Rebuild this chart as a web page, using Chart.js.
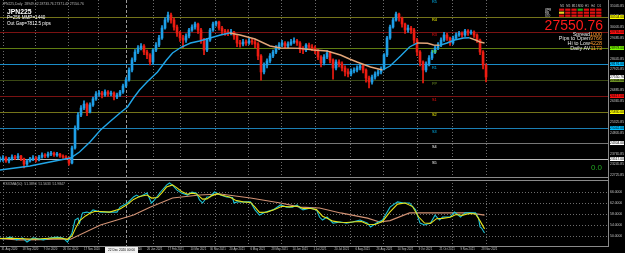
<!DOCTYPE html>
<html>
<head>
<meta charset="utf-8">
<script src="https://cdn.jsdelivr.net/npm/chart.js@4.4.0/dist/chart.umd.min.js"></script>
<style>
  html, body { margin: 0; padding: 0; background: #000; overflow: hidden; }
  #wrap { position: relative; width: 625px; height: 253px; background: #000; }
  #main { position: absolute; left: 0; top: 0; }
  #sub { position: absolute; left: 0; top: 178px; }
</style>
</head>
<body>
<div id="wrap">
  <canvas id="main" width="625" height="178"></canvas>
  <canvas id="sub" width="625" height="75"></canvas>
</div>
<script>
// JPN225 daily, one candle every 2 bars (bar index = i * 2), open = previous close
var closes = [
  23470, 23570, 23420, 23520, 23615, 23570, 23665, 23520, 23270, 23420,
  23520, 23570, 23470, 23615, 23715, 23665, 23760, 23810, 23715, 23760,
  23665, 23615, 23570, 23320, 24060, 25040, 25680, 26025, 26220, 25830,
  26175, 26470, 26715, 26765, 26665, 26815, 26715, 26765, 26570, 26665,
  26815, 27110, 27405, 27895, 28390, 28780, 28980, 29075, 28780, 28635,
  28290, 28880, 29125, 29470, 29960, 30355, 30600, 30355, 30010, 29715,
  29470, 29370, 29570, 29865, 30010, 30160, 29865, 29370, 28880, 29370,
  29865, 30160, 30260, 29960, 29815, 29765, 29715, 29765, 29570, 29225,
  29175, 29275, 29225, 29325, 29275, 29175, 28585, 27800, 28140, 28340,
  28585, 28780, 28980, 29125, 29225, 29075, 29175, 29275, 29325, 29225,
  28930, 28880, 29125, 29025, 28980, 28830, 28535, 28240, 28535, 28730,
  28390, 27995, 28290, 28190, 27995, 27800, 27700, 27845, 27895, 27995,
  28095, 27895, 27500, 27305, 27550, 27700, 27800, 27945, 28635, 29470,
  30010, 30355, 30650, 30455, 30160, 29865, 29960, 29865, 29370, 28780,
  28290, 27895, 28190, 28485, 28780, 28980, 29125, 29370, 29620, 29470,
  29225, 29470, 29620, 29715, 29620, 29815, 29715, 29765, 29620, 29370,
  28780, 28140, 27550
];
var highs = [
  23620, 23680, 23640, 23600, 23720, 23700, 23780, 23700, 23560, 23500,
  23600, 23680, 23640, 23700, 23820, 23790, 23860, 23900, 23860, 23840,
  23800, 23720, 23680, 23620, 24150, 25150, 25800, 26150, 26380, 26280,
  26280, 26560, 26830, 26880, 26850, 26920, 26880, 26860, 26820, 26760,
  26900, 27200, 27520, 28000, 28500, 28900, 29100, 29200, 29150, 28880,
  28700, 28950, 29250, 29600, 30080, 30480, 30750, 30700, 30450, 30100,
  29800, 29600, 29680, 29950, 30120, 30250, 30200, 29950, 29450, 29450,
  29950, 30250, 30307, 30300, 30050, 29900, 29880, 29900, 29800, 29620,
  29350, 29400, 29380, 29450, 29420, 29380, 29250, 28650, 28250, 28450,
  28700, 28880, 29100, 29250, 29350, 29300, 29280, 29400, 29480, 29400,
  29300, 29050, 29200, 29220, 29150, 29080, 28900, 28600, 28650, 28850,
  28800, 28450, 28400, 28400, 28300, 28100, 27950, 27950, 28000, 28100,
  28200, 28150, 27950, 27600, 27650, 27800, 27900, 28050, 28700, 29550,
  30100, 30450, 30750, 30700, 30500, 30200, 30100, 30050, 29950, 29450,
  28850, 28350, 28300, 28600, 28880, 29100, 29250, 29480, 29750, 29700,
  29520, 29560, 29720, 29800, 29780, 29900, 29880, 29860, 29820, 29680,
  29420, 28850, 28200
];
var lows = [
  23380, 23400, 23350, 23330, 23460, 23480, 23510, 23430, 23075, 23200,
  23360, 23440, 23380, 23420, 23560, 23580, 23600, 23680, 23640, 23650,
  23590, 23540, 23480, 23220, 23280, 24000, 24950, 25600, 25950, 25650,
  25780, 26100, 26400, 26600, 26520, 26600, 26600, 26620, 26420, 26480,
  26600, 26750, 27040, 27350, 27800, 28300, 28700, 28880, 28650, 28450,
  28150, 28200, 28800, 29050, 29400, 29900, 30250, 30200, 29850, 29550,
  29300, 29000, 29250, 29480, 29800, 29900, 29700, 29200, 28650, 28800,
  29300, 29800, 30050, 29850, 29650, 29600, 29580, 29620, 29400, 29050,
  29020, 29080, 29100, 29150, 29150, 29000, 28400, 27400, 27700, 28000,
  28250, 28500, 28700, 28900, 29050, 28950, 29000, 29100, 29200, 29100,
  28750, 28700, 28800, 28900, 28850, 28700, 28400, 28050, 28150, 28450,
  28250, 27450, 27900, 28050, 27850, 27600, 27550, 27600, 27750, 27800,
  27900, 27750, 27300, 27010, 27200, 27450, 27600, 27700, 27900, 28550,
  29400, 29950, 30300, 30300, 30000, 29700, 29750, 29700, 29200, 28600,
  28100, 27255, 27800, 28100, 28400, 28700, 28900, 29050, 29300, 29350,
  29100, 29150, 29400, 29550, 29500, 29550, 29600, 29650, 29500, 29250,
  28650, 27950, 27306
];
var barStep = 2;
var lastPrice = 27550.76;

// moving average (coloured by slope)
var maIdx = [0, 10, 20, 30, 40, 47, 53, 60, 67, 73, 80, 85, 89, 93, 98, 105, 111, 115, 121, 127,
  133, 140, 147, 153, 160, 170, 180, 187, 193, 200, 209, 218, 227, 233, 238, 247, 255, 260, 267, 273,
  278, 285, 289, 293, 298, 303, 309, 313, 317, 320, 323];
var maVals = [22976, 23074, 23173, 23320, 23468, 23566, 23862, 24354, 24944, 25338,
  25780, 26076, 26518, 26912, 27306, 27798, 28388, 28732, 29028, 29224,
  29323, 29470, 29618, 29716, 29618, 29421, 29077, 28978, 28970, 28960,
  28880, 28831, 28634, 28437, 28290, 28044, 27896, 28093, 28585, 29028,
  29224, 29210, 29126, 29110, 29224, 29372, 29470, 29480, 29372, 29274, 29224];

// pivot levels
var pivotLevels = [31420, 30504, 29766, 28978, 28191, 27404, 26617, 25830, 25042, 24304, 23517];
var pivotNames = ['R5', 'R4', 'R3', 'R2', 'R1', 'PP', 'S1', 'S2', 'S3', 'S4', 'S5'];
var pivotLineCol = ['#1b7fb4', '#74741a', '#7a1212', '#5f7d12', '#1a8cc8', '#3a4814', '#7a1212', '#74741a', '#1b7fb4', '#767676', '#bcbcbc'];
var pivotTagCol = ['#00bfff', '#ffff00', '#ff1010', '#7cfc00', '#00bfff', '#6b8e23', '#ff1010', '#ffff00', '#00bfff', '#ffffff', '#ffffff'];

var priceTicks = [31045.85, 30525.85, 30005.85, 29485.85, 28965.85, 28445.85, 27925.85, 27405.85, 26885.85,
  26365.85, 25845.85, 25325.85, 24805.85, 24285.85, 23765.85, 23245.85, 22725.85];

// time axis
var dateIdx = [1, 15, 29, 42, 56, 70, 84, 98, 112, 127, 140, 153, 167, 181, 195, 209, 223, 237, 251, 265, 279, 293, 307, 321];
var dateLabels = ['31 Aug 2020', '18 Sep 2020', '7 Oct 2020', '26 Oct 2020', '17 Nov 2020', '7 Dec 2020', '28 Dec 2020',
  '26 Jan 2021', '17 Feb 2021', '10 Mar 2021', '30 Mar 2021', '20 Apr 2021', '6 May 2021', '28 May 2021', '14 Jun 2021',
  '1 Jul 2021', '20 Jul 2021', '6 Aug 2021', '26 Aug 2021', '14 Sep 2021', '3 Oct 2021', '21 Oct 2021', '9 Nov 2021', '28 Nov 2021'];
var gridIdx = [2, 23, 45, 65, 102, 120, 143, 165, 187, 210, 233, 255, 278, 301, 324];
var markerIdx = 84;
var markerLabel = '22 Dec 2020 00:00';

// oscillator panel
var fastIdx = [0, 2, 7, 11, 15, 18, 22, 29, 33, 38, 42, 45, 48, 50, 52, 53, 55, 58, 60, 62,
  67, 73, 78, 80, 85, 89, 91, 93, 98, 101, 103, 107, 111, 113, 115, 118, 121, 125, 128, 131,
  133, 135, 138, 140, 143, 147, 151, 155, 156, 158, 162, 167, 170, 173, 177, 182, 187, 191, 195, 198,
  200, 202, 207, 211, 213, 215, 218, 222, 227, 231, 235, 240, 245, 247, 251, 255, 260, 265, 269, 273,
  277, 280, 283, 287, 290, 293, 295, 300, 303, 307, 310, 313, 317, 319, 320, 321, 323];
var fastVals = [49.3, 48.9, 49.6, 48.6, 49.3, 47.8, 49.3, 48.6, 49.3, 49.6,
  49.3, 47.8, 51.1, 55.8, 56.5, 54.7, 58.4, 58.7, 58.4, 59.5,
  58.7, 58.7, 58.7, 60.5, 62.0, 64.2, 64.9, 64.2, 65.6, 62.0,
  63.1, 66.0, 68.5, 69.3, 68.5, 66.7, 65.6, 64.9, 66.0, 65.6,
  63.1, 62.0, 64.2, 64.2, 66.0, 64.9, 64.2, 64.0, 62.0, 62.4,
  62.4, 62.4, 59.5, 57.6, 58.7, 59.5, 61.3, 60.5, 60.5, 61.3,
  60.2, 59.5, 60.2, 59.5, 56.9, 55.8, 56.9, 54.7, 55.1, 54.7,
  55.1, 55.8, 54.7, 53.3, 54.7, 55.8, 60.5, 62.4, 62.0, 62.0,
  59.5, 54.7, 54.0, 54.7, 57.6, 55.8, 56.9, 56.9, 58.7, 56.9,
  58.4, 58.4, 58.4, 56.5, 53.3, 52.9, 51.1];
var sigIdx = [0, 7, 13, 20, 27, 33, 40, 45, 48, 51, 53, 57, 60, 63, 67, 73, 80, 85, 89, 93,
  98, 101, 105, 108, 111, 115, 118, 121, 125, 128, 131, 135, 138, 141, 145, 148, 153, 157, 162, 167,
  170, 173, 178, 183, 188, 193, 198, 202, 207, 211, 215, 218, 222, 227, 231, 237, 241, 245, 250, 255,
  260, 265, 270, 275, 279, 283, 287, 291, 295, 300, 304, 308, 313, 317, 320, 323];
var sigVals = [49.1, 49.2, 49.1, 48.9, 49.0, 49.2, 49.3, 48.8, 50.0, 53.5,
  55.5, 57.3, 58.3, 58.9, 58.9, 58.7, 59.8, 61.5, 63.3, 64.4,
  64.9, 63.8, 64.0, 65.8, 67.8, 68.6, 67.5, 66.2, 65.2, 65.6,
  65.3, 63.4, 63.5, 64.6, 65.4, 64.8, 64.2, 63.0, 62.4, 62.2,
  60.5, 58.6, 58.7, 59.6, 60.8, 60.6, 60.9, 60.0, 60.0, 59.6,
  57.2, 56.5, 55.4, 55.0, 54.9, 55.2, 55.3, 54.3, 54.2, 55.3,
  58.8, 61.6, 62.0, 60.7, 57.0, 54.7, 54.6, 56.3, 56.4, 56.8,
  57.8, 57.5, 58.2, 58.0, 55.5, 52.6];
var slowIdx = [0, 13, 27, 40, 47, 67, 89, 100, 115, 133, 147, 167, 187, 200, 213, 227, 245, 253, 260, 273, 287, 300, 313, 323];
var slowVals = [49.0, 48.6, 48.7, 48.9, 48.8, 54.0, 57.6, 60.5, 63.8, 64.9, 65.3, 63.8, 62.0, 60.5, 60.2, 58.4,
  56.5, 55.1, 55.6, 58.4, 58.4, 58.4, 58.4, 57.6];
var oscTicks = [50, 54, 58, 62, 66];

// signal table (top right)
var tfNames = ['M1', 'M5', 'M15', 'M30', 'H1', 'H4', 'D1'];
var tableRows = ['WPR', 'RSI', 'STO'];
var tableSignals = [
  ['dn', 'dn', 'dn', 'up', 'dn', 'dn', 'dn'],
  ['nt', 'dn', 'dn', 'dn', 'dn', 'dn', 'dn'],
  ['dn', 'dn', 'dn', 'dn', 'dn', 'dn', 'dn']
];
var infoLabels = ['Spread', 'Pips to Open', 'Hi to Low', 'Daily AV'];
var infoValues = ['1000', '9766', '4228', '1173'];

var FONT = 'Liberation Sans, Arial, sans-serif';
var upCol = '#1e9fe8', dnCol = '#ee1c12';

function line(ctx, x1, y1, x2, y2) {
  ctx.beginPath(); ctx.moveTo(x1, y1); ctx.lineTo(x2, y2); ctx.stroke();
}
function text(ctx, s, x, y, col, size, align, weight) {
  ctx.fillStyle = col;
  ctx.font = (weight || '') + ' ' + size + 'px ' + FONT;
  ctx.textAlign = align || 'left';
  ctx.textBaseline = 'alphabetic';
  ctx.fillText(s, x, y);
}
function pts(xs, ys) {
  return xs.map(function (x, i) { return { x: x, y: ys[i] }; });
}

var mainDeco = {
  id: 'mainDeco',
  beforeDatasetsDraw: function (chart) {
    var ctx = chart.ctx, a = chart.chartArea, xs = chart.scales.x, ys = chart.scales.y;
    ctx.save();
    ctx.lineWidth = 1;
    ctx.strokeStyle = '#6c6c6c';
    ctx.setLineDash([1, 2]);
    gridIdx.forEach(function (v) {
      var x = Math.round(xs.getPixelForValue(v)) + 0.5;
      line(ctx, x, a.top, x, a.bottom);
    });
    ctx.setLineDash([3, 2]);
    ctx.strokeStyle = '#9a9a9a';
    var mx = Math.round(xs.getPixelForValue(markerIdx)) + 0.5;
    line(ctx, mx, a.top, mx, a.bottom);
    ctx.setLineDash([]);
    pivotLevels.forEach(function (p, i) {
      var y = Math.round(ys.getPixelForValue(p)) + 0.5;
      if (y < a.top) return;
      ctx.strokeStyle = pivotLineCol[i];
      line(ctx, a.left, y, a.right, y);
    });
    ctx.restore();
  },
  afterDraw: function (chart) {
    var ctx = chart.ctx, a = chart.chartArea, xs = chart.scales.x, ys = chart.scales.y;
    ctx.save();
    ctx.strokeStyle = '#8a8a8a';
    ctx.lineWidth = 1;
    line(ctx, a.right + 0.5, 0, a.right + 0.5, chart.height);
    line(ctx, 0, a.bottom + 0.5, a.right, a.bottom + 0.5);

    // pivot names inside plot
    var nx = xs.getPixelForValue(288);
    pivotLevels.forEach(function (p, i) {
      var y = ys.getPixelForValue(p);
      text(ctx, pivotNames[i], nx, y + 4.5, pivotTagCol[i], 3.8);
    });

    // price tags on the axis
    pivotLevels.forEach(function (p, i) {
      var y = ys.getPixelForValue(p);
      if (y < a.top || y > a.bottom) return;
      ctx.fillStyle = pivotTagCol[i];
      ctx.fillRect(a.right + 2, y - 2, 14, 4);
      text(ctx, p.toFixed(2), a.right + 9, y + 1.3, '#000', 3.3, 'center');
    });
    var ly = ys.getPixelForValue(lastPrice);
    ctx.fillStyle = '#ffffff';
    ctx.fillRect(a.right + 2, ly - 2, 14, 4);
    text(ctx, lastPrice.toFixed(2), a.right + 9, ly + 1.3, '#000', 3.3, 'center');

    // top-left info
    text(ctx, 'JPN225,Daily  28949.42 28733.76 27371.42 27550.76', 2, 4.5, '#b8b8b8', 3.4);
    text(ctx, 'JPN225', 7, 14, '#ffffff', 6.8, 'left', 'bold');
    text(ctx, 'P=256 MMP=1440', 7, 19, '#ffffff', 4.6);
    text(ctx, 'Out Gap=7812.5 pips', 7, 25, '#ffffff', 4.6);

    // signal table
    var cx0 = 559, cw = 6.2;
    tfNames.forEach(function (n, j) {
      text(ctx, n, cx0 + j * cw + cw / 2, 7.3, '#c8c8c8', 2.8, 'center');
    });
    tableRows.forEach(function (r, k) {
      var ry = 8.6 + k * 3;
      text(ctx, r, 545, ry + 2.2, '#e0e0e0', 2.6);
      tableSignals[k].forEach(function (s, j) {
        ctx.fillStyle = s === 'up' ? '#18b018' : s === 'nt' ? '#e8d020' : '#e01010';
        ctx.fillRect(cx0 + j * cw, ry, cw - 1, 2.2);
      });
    });

    // big price
    text(ctx, lastPrice.toFixed(2), 603, 30, '#ff1a1a', 14, 'right');

    // info lines
    infoLabels.forEach(function (l, k) {
      var by = 35.5 + k * 4.9;
      ctx.font = '5.4px ' + FONT;
      var vw = ctx.measureText(infoValues[k]).width;
      text(ctx, infoValues[k], 602, by, '#ff9a2e', 5.4, 'right');
      text(ctx, l, 602 - vw, by, '#e6e6e6', 5.4, 'right');
    });

    text(ctx, '0.0', 602, 170, '#22a822', 8, 'right');
    ctx.restore();
  }
};

var subDeco = {
  id: 'subDeco',
  beforeDatasetsDraw: function (chart) {
    var ctx = chart.ctx, a = chart.chartArea, xs = chart.scales.x, ys = chart.scales.y;
    ctx.save();
    ctx.lineWidth = 1;
    ctx.strokeStyle = '#6c6c6c';
    ctx.setLineDash([1, 2]);
    gridIdx.forEach(function (v) {
      var x = Math.round(xs.getPixelForValue(v)) + 0.5;
      line(ctx, x, a.top, x, a.bottom);
    });
    oscTicks.forEach(function (v) {
      var y = Math.round(ys.getPixelForValue(v)) + 0.5;
      line(ctx, a.left, y, a.right, y);
    });
    ctx.setLineDash([3, 2]);
    ctx.strokeStyle = '#9a9a9a';
    var mx = Math.round(xs.getPixelForValue(markerIdx)) + 0.5;
    line(ctx, mx, a.top, mx, a.bottom);
    ctx.restore();
  },
  afterDraw: function (chart) {
    var ctx = chart.ctx, a = chart.chartArea, xs = chart.scales.x;
    ctx.save();
    ctx.setLineDash([]);
    ctx.strokeStyle = '#8a8a8a';
    ctx.lineWidth = 1;
    line(ctx, 0, a.top + 0.5, a.right, a.top + 0.5);
    line(ctx, 0, a.bottom + 0.5, a.right + 1, a.bottom + 0.5);
    line(ctx, a.right + 0.5, 0, a.right + 0.5, a.bottom);
    text(ctx, 'RSIOMA(50)  51.3894  51.5633  51.9847', 3, a.top + 4.5, '#b8b8b8', 3.4);
    var mx = xs.getPixelForValue(markerIdx);
    ctx.fillStyle = '#f2f2f2';
    ctx.fillRect(mx - 21, a.bottom + 1, 33, 6);
    text(ctx, markerLabel, mx - 4.5, a.bottom + 5.4, '#000', 3.2, 'center');
    ctx.restore();
  }
};

var candleCols = closes.map(function (c, i) {
  return i && c < closes[i - 1] ? dnCol : upCol;
});
var bodyData = closes.map(function (c, i) {
  return { x: i * barStep, y: [i ? closes[i - 1] : c, c] };
});
var wickData = closes.map(function (c, i) {
  return { x: i * barStep, y: [lows[i], highs[i]] };
});

new Chart(document.getElementById('main'), {
  type: 'bar',
  data: {
    datasets: [
      {
        type: 'line',
        data: pts(maIdx, maVals),
        borderWidth: 1.4,
        pointRadius: 0,
        borderColor: '#22a6e8',
        segment: {
          borderColor: function (c) { return c.p1.parsed.y >= c.p0.parsed.y ? '#22a6e8' : '#e3a67a'; }
        }
      },
      { data: bodyData, backgroundColor: candleCols, barThickness: 2, minBarLength: 1, grouped: false },
      { data: wickData, backgroundColor: candleCols, barThickness: 1, grouped: false }
    ]
  },
  options: {
    responsive: false,
    animation: false,
    layout: { padding: { top: 0, bottom: 1, left: 0, right: 0 } },
    plugins: { legend: { display: false }, tooltip: { enabled: false } },
    scales: {
      x: { type: 'linear', min: 0, max: 405.3, offset: false, display: false },
      y: {
        position: 'right',
        min: 22632,
        max: 31340,
        afterBuildTicks: function (s) { s.ticks = priceTicks.map(function (v) { return { value: v }; }); },
        afterFit: function (s) { s.width = 17; s.paddingTop = 0; s.paddingBottom = 0; },
        grid: { display: false, drawTicks: false },
        border: { display: false },
        ticks: {
          autoSkip: false,
          color: '#c4c4c4',
          padding: 2,
          font: { size: 3.4, family: FONT },
          callback: function (v) { return Number(v).toFixed(2); }
        }
      }
    }
  },
  plugins: [mainDeco]
});

new Chart(document.getElementById('sub'), {
  type: 'line',
  data: {
    datasets: [
      { data: pts(sigIdx, sigVals), borderColor: '#e6e21a' },
      { data: pts(fastIdx, fastVals), borderColor: '#1cc2d4' },
      { data: pts(slowIdx, slowVals), borderColor: '#d29274' }
    ]
  },
  options: {
    responsive: false,
    animation: false,
    layout: { padding: { top: 2, bottom: 0, left: 0, right: 0 } },
    elements: { point: { radius: 0 }, line: { borderWidth: 1.1, tension: 0 } },
    plugins: { legend: { display: false }, tooltip: { enabled: false } },
    scales: {
      x: {
        type: 'linear', min: 0, max: 405.3, offset: false,
        afterBuildTicks: function (s) { s.ticks = dateIdx.map(function (v) { return { value: v }; }); },
        afterFit: function (s) { s.height = 7; s.paddingLeft = 0; s.paddingRight = 0; },
        grid: { display: false, drawTicks: false },
        border: { display: false },
        ticks: {
          autoSkip: false, maxRotation: 0, align: 'start', padding: 1.5,
          color: '#c4c4c4',
          font: { size: 2.8, family: FONT },
          callback: function (v, i) { return dateLabels[i]; }
        }
      },
      y: {
        position: 'right',
        min: 46.3675,
        max: 70.3675,
        afterBuildTicks: function (s) { s.ticks = oscTicks.map(function (v) { return { value: v }; }); },
        afterFit: function (s) { s.width = 17; s.paddingTop = 0; s.paddingBottom = 0; },
        grid: { display: false, drawTicks: false },
        border: { display: false },
        ticks: {
          autoSkip: false, color: '#c4c4c4', padding: 2,
          font: { size: 3.4, family: FONT },
          callback: function (v) { return Number(v).toFixed(4); }
        }
      }
    }
  },
  plugins: [subDeco]
});
</script>
</body>
</html>
